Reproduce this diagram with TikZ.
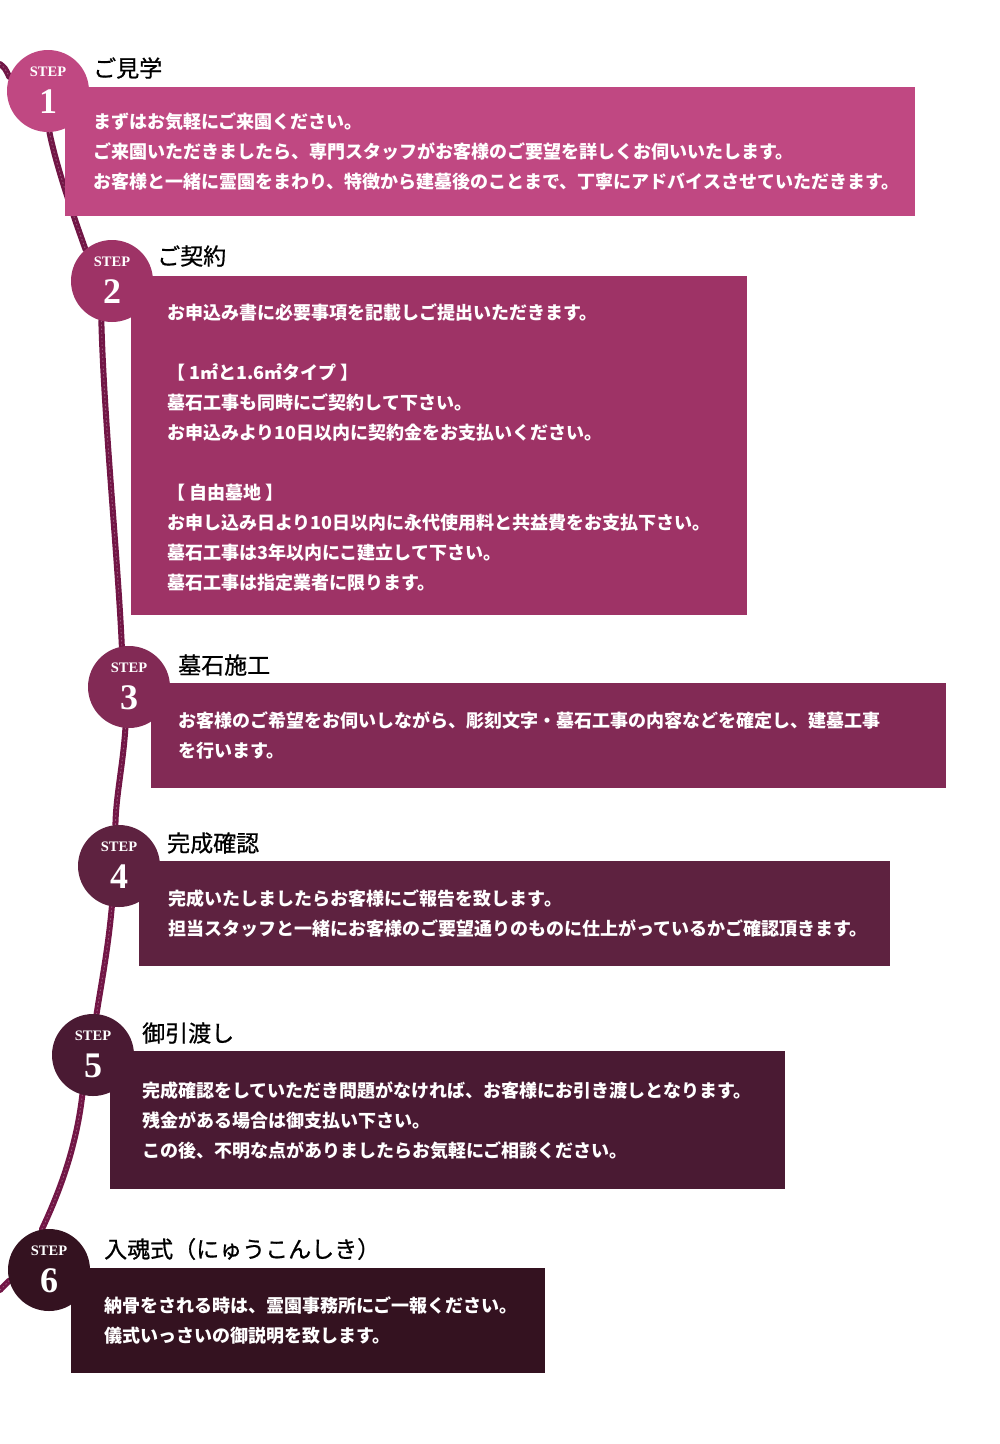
\documentclass[tikz,border=0pt]{standalone}
\usepackage{fontspec}
\newfontfamily\jp{Noto Sans CJK JP}
\newfontfamily\jptitle[FakeBold=0.7]{Noto Sans CJK JP}
\newfontfamily\stepfont{Liberation Serif}
\pgfdeclarelayer{bglayer}
\pgfdeclarelayer{ropelayer}
\pgfdeclarelayer{boxlayer}
\pgfsetlayers{bglayer,ropelayer,boxlayer,main}
\definecolor{cA}{HTML}{C04882}
\definecolor{cB}{HTML}{9E3366}
\definecolor{cC}{HTML}{822A55}
\definecolor{cD}{HTML}{5E2240}
\definecolor{cE}{HTML}{4A1A33}
\definecolor{cF}{HTML}{341220}
\definecolor{ropecol}{HTML}{721646}
\tikzset{
  stepbox/.style={rectangle, inner sep=0pt, anchor=north west},
  stepcircle/.style={circle, inner sep=0pt, minimum size=82pt},
  steplabel/.style={font=\stepfont\bfseries\fontsize{14.5}{14.5}\selectfont, text=white, inner sep=0pt},
  stepnum/.style={font=\stepfont\bfseries\fontsize{36}{36}\selectfont, text=white, inner sep=0pt},
  bodytext/.style={font=\jp\bfseries\fontsize{18}{30}\selectfont, text=white, align=left, anchor=west, inner sep=0pt},
  titletext/.style={font=\jptitle\fontsize{23}{23}\selectfont, text=black, anchor=west, inner sep=0pt},
  rope/.style={draw=ropecol, line width=6pt, line cap=round,
    postaction={draw=ropecol!72!white, line width=0.9pt, dash pattern=on 1pt off 3pt}},
}
\begin{document}
\begin{tikzpicture}[x=1pt,y=-1pt]
\begin{pgfonlayer}{bglayer}
  \fill[white] (0,0) rectangle (1000,1444);
\end{pgfonlayer}
\useasboundingbox (0,0) rectangle (1000,1444);

% ---------- boxes ----------
\begin{pgfonlayer}{boxlayer}
\node[stepbox, fill=cA, minimum width=850pt, minimum height=129pt] (b1) at (65,87) {};
\node[stepbox, fill=cB, minimum width=616pt, minimum height=339pt] (b2) at (131,276) {};
\node[stepbox, fill=cC, minimum width=795pt, minimum height=105pt] (b3) at (151,683) {};
\node[stepbox, fill=cD, minimum width=751pt, minimum height=105pt] (b4) at (139,861) {};
\node[stepbox, fill=cE, minimum width=675pt, minimum height=138pt] (b5) at (110,1051) {};
\node[stepbox, fill=cF, minimum width=474pt, minimum height=105pt] (b6) at (71,1268) {};
\end{pgfonlayer}

% ---------- circles ----------
\node[stepcircle, fill=cA] (c1) at (48,91) {};
\node[stepcircle, fill=cB] (c2) at (112,281) {};
\node[stepcircle, fill=cC] (c3) at (129,687) {};
\node[stepcircle, fill=cD] (c4) at (119,866) {};
\node[stepcircle, fill=cE] (c5) at (93,1055) {};
\node[stepcircle, fill=cF] (c6) at (49,1270) {};

\foreach \i/\n in {1/1,2/2,3/3,4/4,5/5,6/6}{
  \node[steplabel] (s\i) at ([yshift=19pt]c\i.center) {STEP};
  \node[stepnum] (n\i) at ([yshift=-11pt]c\i.center) {\n};
}

% ---------- titles ----------
\node[titletext] (h1) at (93,68) {ご見学};
\node[titletext] (h2) at (157,256) {ご契約};
\node[titletext] (h3) at (178,665) {墓石施工};
\node[titletext] (h4) at (167,843) {完成確認};
\node[titletext] (h5) at (142,1033) {御引渡し};
\node[titletext] (h6) at (104,1249) {入魂式（にゅうこんしき）};

% ---------- body texts ----------
\node[bodytext] (t1) at ([xshift=28pt]b1.west) {まずはお気軽にご来園ください。\\
ご来園いただきましたら、専門スタッフがお客様のご要望を詳しくお伺いいたします。\\
お客様と一緒に霊園をまわり、特徴から建墓後のことまで、丁寧にアドバイスさせていただきます。};

\node[bodytext] (t2) at ([xshift=36pt,yshift=-2pt]b2.west) {お申込み書に必要事項を記載しご提出いただきます。\\[30pt]
【 1㎡と1.6㎡タイプ 】\\
墓石工事も同時にご契約して下さい。\\
お申込みより10日以内に契約金をお支払いください。\\[30pt]
【 自由墓地 】\\
お申し込み日より10日以内に永代使用料と共益費をお支払下さい。\\
墓石工事は3年以内にこ建立して下さい。\\
墓石工事は指定業者に限ります。};

\node[bodytext] (t3) at ([xshift=27pt]b3.west) {お客様のご希望をお伺いしながら、彫刻文字・墓石工事の内容などを確定し、建墓工事\\
を行います。};

\node[bodytext] (t4) at ([xshift=29pt]b4.west) {完成いたしましたらお客様にご報告を致します。\\
担当スタッフと一緒にお客様のご要望通りのものに仕上がっているかご確認頂きます。};

\node[bodytext] (t5) at ([xshift=32pt]b5.west) {完成確認をしていただき問題がなければ、お客様にお引き渡しとなります。\\
残金がある場合は御支払い下さい。\\
この後、不明な点がありましたらお気軽にご相談ください。};

\node[bodytext] (t6) at ([xshift=33pt]b6.west) {納骨をされる時は、霊園事務所にご一報ください。\\
儀式いっさいの御説明を致します。};

% ---------- rope ----------
\coordinate (ropestart) at (0,64);
\coordinate (ropeend) at (0,1290);
\begin{pgfonlayer}{ropelayer}
\draw[rope] (ropestart) .. controls (5,68) .. (c1.160);
\draw[rope] (c1.-88) .. controls (56,165) and (72,212) .. (c2.130);
\draw[rope] (c2.-105) .. controls (104,420) and (118,560) .. (c3.100);
\draw[rope] (c3.-95) .. controls (123,765) and (116,795) .. (c4.95);
\draw[rope] (c4.-100) .. controls (108,950) and (101,985) .. (c5.85);
\draw[rope] (c5.-105) .. controls (76,1150) and (58,1195) .. (c6.100);
\draw[rope] (c6.195) -- (ropeend);
\end{pgfonlayer}
\end{tikzpicture}
\end{document}
